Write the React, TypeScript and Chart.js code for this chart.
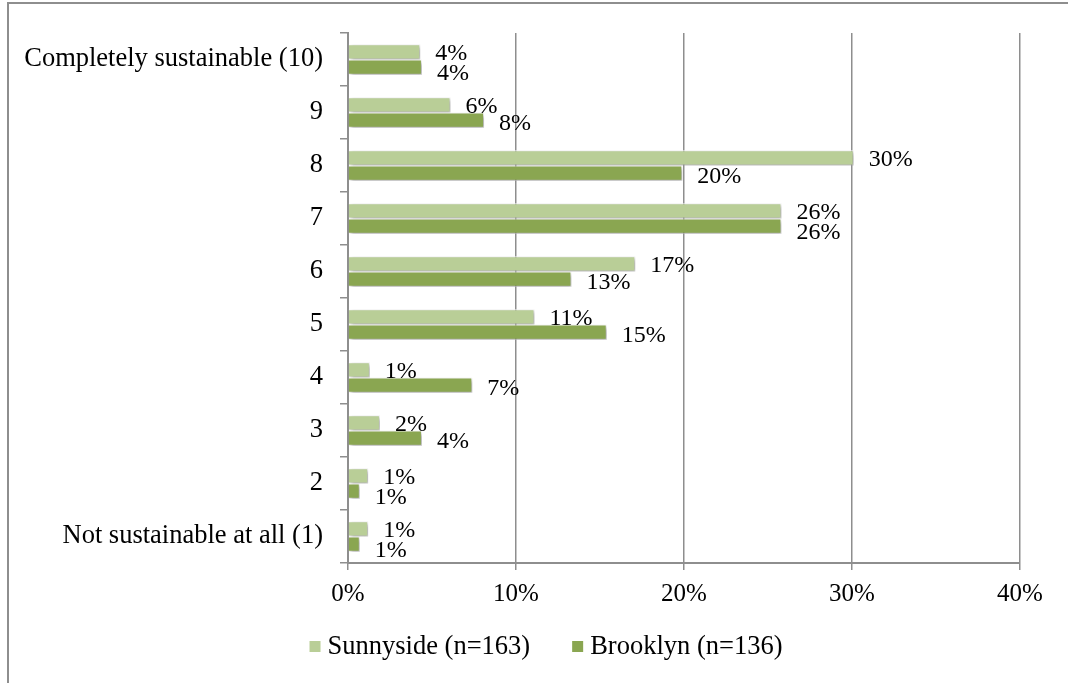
import React, { useEffect, useRef } from "react";
import { Chart, registerables } from "chart.js";

Chart.register(...registerables);

// Ratings from top to bottom of the chart
const categories = [
  "Completely sustainable (10)",
  "9",
  "8",
  "7",
  "6",
  "5",
  "4",
  "3",
  "2",
  "Not sustainable at all (1)",
];

// Share of respondents (%) per rating
const sunnyside = [4.3, 6.1, 30.1, 25.8, 17.1, 11.1, 1.3, 1.9, 1.2, 1.2];
const brooklyn = [4.4, 8.1, 19.9, 25.8, 13.3, 15.4, 7.4, 4.4, 0.7, 0.7];

const seriesNames = ["Sunnyside (n=163)", "Brooklyn (n=136)"];
const seriesColors = ["#B9CE97", "#8AA651"];

const xTicks = [0, 10, 20, 30, 40];

const FONT = "'Liberation Serif', 'Times New Roman', serif";
const CATEGORY_SIZE = 26.5;
const TICK_SIZE = 25;
const VALUE_SIZE = 24;
const LEGEND_SIZE = 26.5;
const AXIS_GRAY = "#8e8e8e";

// Soft drop shadow under bars, value labels at the bar ends, and a centred legend
const decorations = {
  id: "decorations",
  beforeDatasetsDraw(chart: any) {
    const ctx = chart.ctx;
    ctx.save();
    ctx.shadowColor = "rgba(0,0,0,0.35)";
    ctx.shadowBlur = 4;
    ctx.shadowOffsetX = 2;
    ctx.shadowOffsetY = 2;
  },
  afterDatasetsDraw(chart: any) {
    const ctx = chart.ctx;
    ctx.restore();
    ctx.save();
    ctx.font = `${VALUE_SIZE}px ${FONT}`;
    ctx.fillStyle = "#000";
    ctx.textAlign = "left";
    ctx.textBaseline = "middle";
    const gapX = 15;
    const minStep = 20;
    const upper = chart.getDatasetMeta(0).data;
    const lower = chart.getDatasetMeta(1).data;
    const dsUpper = chart.data.datasets[0].data;
    const dsLower = chart.data.datasets[1].data;
    upper.forEach((elU: any, j: number) => {
      const elL = lower[j];
      const tU = Math.round(dsUpper[j]) + "%";
      const tL = Math.round(dsLower[j]) + "%";
      const xU = elU.x + gapX;
      const xL = elL.x + gapX;
      const yU = elU.y + 2;
      let yL = elL.y + 4;
      const wU = ctx.measureText(tU).width;
      const wL = ctx.measureText(tL).width;
      // push the lower label down when the two labels would collide
      const overlapX = xL < xU + wU && xU < xL + wL;
      if (overlapX && yL - yU < minStep) yL = yU + minStep;
      ctx.fillText(tU, xU, yU);
      ctx.fillText(tL, xL, yL);
    });
    ctx.restore();
  },
  afterDraw(chart: any) {
    const ctx = chart.ctx;
    ctx.save();
    ctx.font = `${LEGEND_SIZE}px ${FONT}`;
    ctx.textBaseline = "alphabetic";
    ctx.textAlign = "left";
    const box = 11;
    const boxGap = 7;
    const itemGap = 42;
    const items = chart.data.datasets.map((ds: any) => ({
      label: ds.label,
      color: ds.backgroundColor,
      w: ctx.measureText(ds.label).width,
    }));
    const total =
      items.reduce((s: number, it: any) => s + box + boxGap + it.w, 0) +
      itemGap * (items.length - 1);
    const centerX = 546;
    const baseline = 654;
    let x = centerX - total / 2;
    items.forEach((it: any) => {
      ctx.fillStyle = it.color;
      ctx.fillRect(x, baseline - 13, box, box);
      x += box + boxGap;
      ctx.fillStyle = "#000";
      ctx.fillText(it.label, x, baseline);
      x += it.w + itemGap;
    });
    ctx.restore();
  },
};

export default function App() {
  const canvasRef = useRef<HTMLCanvasElement | null>(null);

  useEffect(() => {
    if (!canvasRef.current) return;
    Chart.defaults.font.family = FONT;
    Chart.defaults.color = "#000";

    const chart = new Chart(canvasRef.current, {
      type: "bar",
      data: {
        labels: categories,
        datasets: [
          {
            label: seriesNames[0],
            data: sunnyside,
            backgroundColor: seriesColors[0],
            borderColor: "#ffffff",
            borderWidth: 1,
          },
          {
            label: seriesNames[1],
            data: brooklyn,
            backgroundColor: seriesColors[1],
            borderColor: "#ffffff",
            borderWidth: 1,
          },
        ],
      },
      options: {
        indexAxis: "y",
        animation: false,
        responsive: false,
        maintainAspectRatio: false,
        categoryPercentage: 0.58,
        barPercentage: 1,
        layout: { padding: { top: 33, left: 8, right: 48, bottom: 70 } },
        plugins: {
          legend: { display: false },
          tooltip: { enabled: false },
        },
        scales: {
          x: {
            type: "linear",
            min: xTicks[0],
            max: xTicks[xTicks.length - 1],
            afterBuildTicks(scale: any) {
              scale.ticks = xTicks.map((v) => ({ value: v }));
            },
            afterFit(scale: any) {
              scale.height = 50;
            },
            ticks: {
              callback: (v: any) => v + "%",
              padding: 9,
              font: { size: TICK_SIZE, family: FONT },
              color: "#000",
            },
            grid: {
              color: AXIS_GRAY,
              lineWidth: 1.5,
              drawTicks: true,
              tickLength: 7,
            },
            border: { color: AXIS_GRAY, width: 2 },
          },
          y: {
            type: "category",
            afterFit(scale: any) {
              scale.width = 340;
            },
            ticks: {
              padding: 17,
              font: { size: CATEGORY_SIZE, family: FONT },
              color: "#000",
              autoSkip: false,
            },
            grid: {
              offset: true,
              drawOnChartArea: false,
              drawTicks: true,
              tickLength: 8,
              color: AXIS_GRAY,
              lineWidth: 1.5,
            },
            border: { color: AXIS_GRAY, width: 2 },
          },
        },
      } as any,
      plugins: [decorations],
    });
    return () => chart.destroy();
  }, []);

  return (
    <div style={{ position: "absolute", left: 0, top: 0, width: 1068, height: 683, background: "#fff" }}>
      <div
        style={{
          position: "absolute",
          left: 7,
          top: 2,
          width: 1061,
          height: 681,
          borderTop: `2px solid ${AXIS_GRAY}`,
          borderLeft: `2px solid ${AXIS_GRAY}`,
          boxSizing: "border-box",
        }}
      />
      <canvas
        ref={canvasRef}
        width={1068}
        height={683}
        style={{ position: "absolute", left: 0, top: 0, width: 1068, height: 683 }}
      />
    </div>
  );
}
